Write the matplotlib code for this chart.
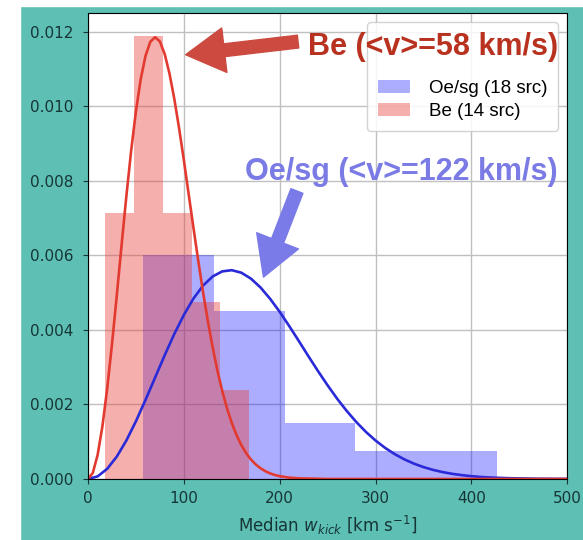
import numpy as np
import matplotlib.pyplot as plt
from matplotlib.lines import Line2D
from matplotlib.patches import Rectangle

# histogram bins and source counts
oe_edges = [57, 131, 205, 279, 353, 427]
oe_counts = [8, 6, 2, 1, 1]
be_edges = [18, 48, 78, 108, 138, 168]
be_counts = [3, 5, 3, 2, 1]

# fitted curves
be_v = [0, 5, 10, 15, 20, 25, 30, 35, 40, 45, 50, 55, 60, 65, 70, 75, 80,
        85, 90, 95, 100, 105, 110, 115, 120, 125, 130, 135, 140, 145, 150,
        155, 160, 165, 170, 175, 180, 185, 190, 195, 200, 210, 220, 250, 300,
        400, 500]
be_pdf = [0.0, 0.000164, 0.000645, 0.001414, 0.002425, 0.00362, 0.004928,
          0.006277, 0.007594, 0.008813, 0.009877, 0.010735, 0.011362,
          0.011736, 0.01186, 0.011742, 0.011407, 0.010881, 0.010205,
          0.009417, 0.008553, 0.007645, 0.006741, 0.005856, 0.005018,
          0.004238, 0.003536, 0.002909, 0.002364, 0.001895, 0.0015, 0.001174,
          0.000907, 0.000692, 0.000522, 0.000389, 0.000287, 0.000209,
          0.00015, 0.000107, 0.000075, 0.000036, 0.000017, 0.0, 0.0, 0.0, 0.0]
oe_v = [0, 10, 20, 30, 40, 50, 60, 70, 80, 90, 100, 110, 120, 130, 140, 150,
        160, 170, 180, 190, 200, 210, 220, 230, 240, 250, 260, 270, 280, 290,
        300, 310, 320, 330, 340, 350, 360, 370, 380, 390, 400, 410, 420, 440,
        470, 500]
oe_pdf = [0.0, 0.000069, 0.000273, 0.000601, 0.001034, 0.001551, 0.002124,
          0.002724, 0.003323, 0.003892, 0.004405, 0.004844, 0.005191,
          0.005436, 0.005573, 0.005605, 0.005537, 0.005377, 0.00514,
          0.004836, 0.004486, 0.004101, 0.003701, 0.003293, 0.002894,
          0.002512, 0.002152, 0.001823, 0.001526, 0.001262, 0.001032,
          0.000834, 0.000667, 0.000527, 0.000412, 0.000319, 0.000244,
          0.000185, 0.000138, 0.000103, 0.000075, 0.000054, 0.000039,
          0.00002, 0.000006, 0.000002]

teal = '#5ebfb4'
tick_col = '#163636'

fig = plt.figure(figsize=(5.83, 5.40), dpi=100, facecolor=teal)
fig.patches.append(Rectangle((0, 0), 20/583, 1, transform=fig.transFigure,
                             color='white', zorder=-1))
fig.patches.append(Rectangle((0, 1 - 6/540), 1, 6/540, transform=fig.transFigure,
                             color='white', zorder=-1))
ax = fig.add_axes([0.151, 0.113, 0.822, 0.863])

ax.hist(oe_edges[:-1], bins=oe_edges, weights=oe_counts, density=True,
        color='blue', alpha=0.32, label='Oe/sg (18 src)')
ax.hist(be_edges[:-1], bins=be_edges, weights=be_counts, density=True,
        color='#e8413a', alpha=0.42, label='Be (14 src)')
ax.plot(oe_v, oe_pdf, color='#2a2ad8', lw=1.9)
ax.plot(be_v, be_pdf, color='#e23a30', lw=1.9)

ax.set_xlim(0, 500)
ax.set_ylim(0, 0.01251)
ax.set_xticks([0, 100, 200, 300, 400, 500])
ax.set_yticks(np.arange(0, 0.0121, 0.002))
ax.yaxis.set_major_formatter(plt.FormatStrFormatter('%.3f'))
ax.tick_params(labelsize=11, colors=tick_col)
ax.tick_params(axis='y', pad=7)
ax.tick_params(axis='x', pad=5)
ax.grid(True, color='#c0c0c0', lw=1)
ax.set_axisbelow(True)
ax.set_xlabel('Median $w_{kick}$ [km s$^{-1}$]', color=tick_col, fontsize=12,
              labelpad=6)

# legend: two blank rows on top (covered by the annotation in the original)
h, l = ax.get_legend_handles_labels()
blank = Line2D([], [], alpha=0)
ax.legend([blank, blank] + h, [' ', ' '] + l, loc='upper right',
          prop={'family': 'Liberation Sans', 'size': 13.5},
          handlelength=1.75, handletextpad=1.0, labelspacing=0.34,
          borderpad=0.55, framealpha=0.85)

# annotations with hand-drawn style arrows
arrow = 'simple,head_length=1.0,head_width=1.15,tail_width=0.33'
ax.annotate('', xy=(99, 0.01138), xytext=(222, 0.01175),
            arrowprops=dict(arrowstyle=arrow, color='#cc4a40', mutation_scale=28))
ax.annotate('', xy=(182, 0.00535), xytext=(219, 0.0078),
            arrowprops=dict(arrowstyle=arrow, color='#7a7ae8', mutation_scale=28))
ax.text(490, 0.01138, 'Be (<v>=58 km/s)', ha='right', va='baseline',
        family='Liberation Sans', fontweight='bold', fontsize=22, color='#b8321f',
        zorder=10)
ax.text(490, 0.00803, 'Oe/sg (<v>=122 km/s)', ha='right', va='baseline',
        family='Liberation Sans', fontweight='bold', fontsize=22, color='#7b7be6',
        zorder=10)

plt.savefig('out.png', dpi=100, facecolor=teal)
